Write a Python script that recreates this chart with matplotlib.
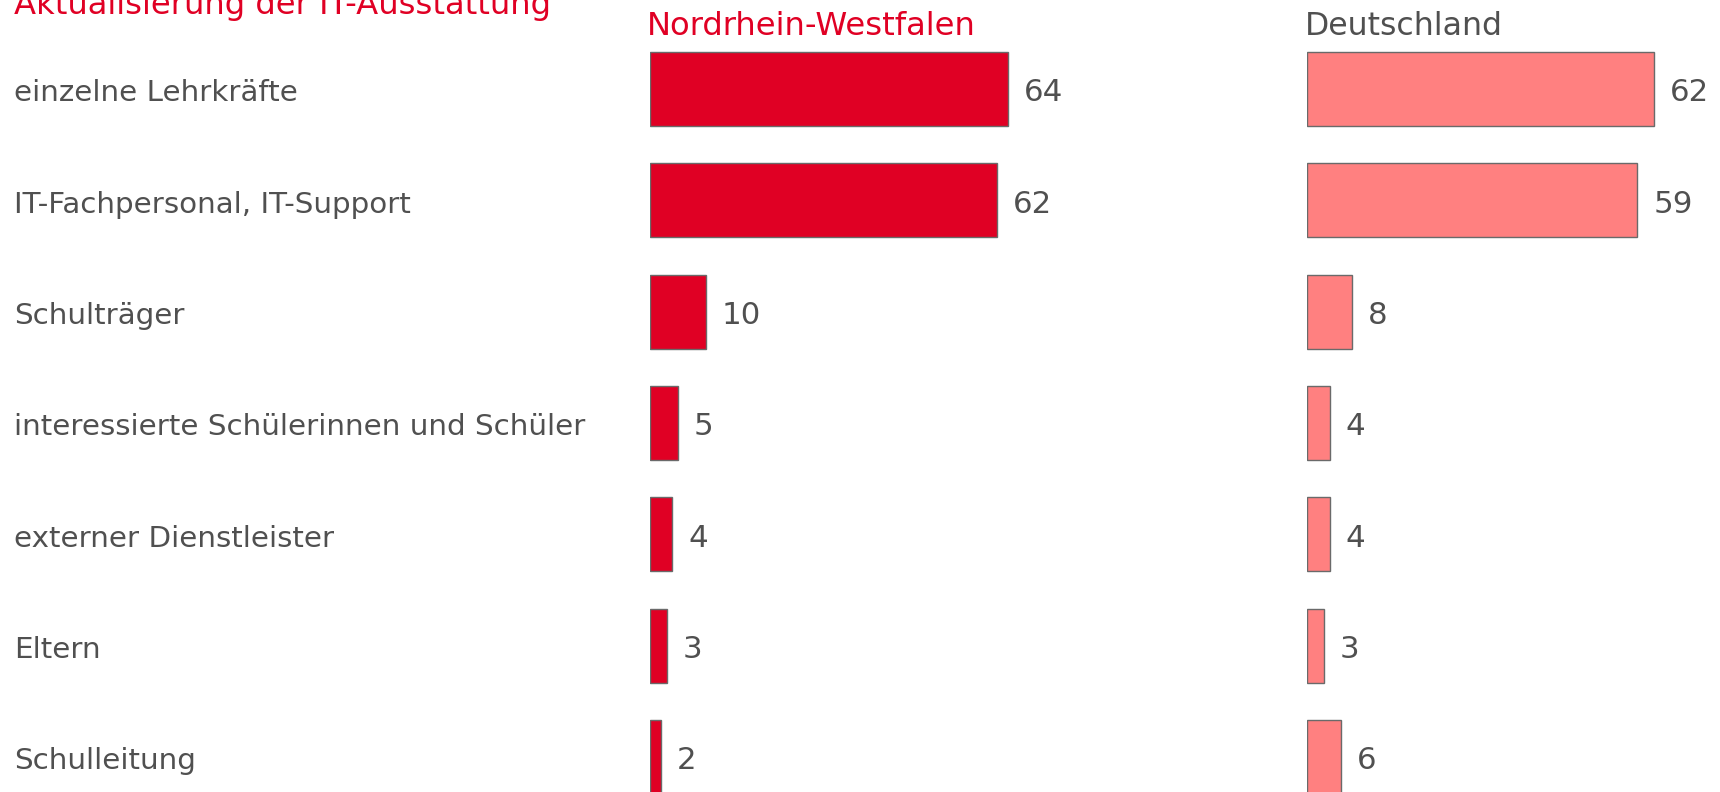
import matplotlib
matplotlib.use("Agg")
import matplotlib.pyplot as plt
import matplotlib.transforms as mtransforms

categories = ["einzelne Lehrkräfte", "IT-Fachpersonal, IT-Support", "Schulträger",
              "interessierte Schülerinnen und Schüler", "externer Dienstleister",
              "Eltern", "Schulleitung"]
nrw_values = [64, 62, 10, 5, 4, 3, 2]
de_values = [62, 59, 8, 4, 4, 3, 6]
title = "Aktualisierung der IT-Ausstattung"
series_names = ["Nordrhein-Westfalen", "Deutschland"]

W, H = 1720, 792
DPI = 100
RED = "#E00024"
PINK = "#FF8080"
GRAY = "#505050"
EDGE = "#6a6a6a"

plt.rcParams['font.family'] = ['DejaVu Sans']

fig = plt.figure(figsize=(W / DPI, H / DPI), dpi=DPI)

px_per_unit = 5.59
row_step = 111.33
first_center = 89.0
ylim = ((H - first_center) / row_step, -first_center / row_step)

ax1_left, ax1_w = 650.0, 600.0
ax2_left, ax2_w = 1307.3, W - 1307.3

ax1 = fig.add_axes([ax1_left / W, 0, ax1_w / W, 1])
ax2 = fig.add_axes([ax2_left / W, 0, ax2_w / W, 1])

VAL_FS = 22.2
LBL_FS = 21.2
CAP = 0.729  # cap height in em (DejaVu Sans)

val_shift = CAP * VAL_FS * DPI / 72 / 2 + 1.0
lbl_shift = CAP * LBL_FS * DPI / 72 / 2 + 1.5

ypos = list(range(len(categories)))
for ax, vals, col, w in [(ax1, nrw_values, RED, ax1_w), (ax2, de_values, PINK, ax2_w)]:
    ax.barh(ypos, vals, height=0.665, color=col, edgecolor=EDGE, linewidth=1.0)
    ax.set_xlim(0, w / px_per_unit)
    ax.set_ylim(*ylim)
    ax.axis("off")
    for y, v in zip(ypos, vals):
        ax.annotate(str(v), xy=(v, y), xytext=(16, -val_shift), textcoords="offset pixels",
                    ha="left", va="baseline", fontsize=VAL_FS, color=GRAY,
                    annotation_clip=False)

# category labels
trans = mtransforms.blended_transform_factory(fig.transFigure, ax1.transData)
trans = trans + mtransforms.ScaledTranslation(0, -lbl_shift / DPI, fig.dpi_scale_trans)
for y, c in zip(ypos, categories):
    fig.text(14 / W, y, c, transform=trans, ha="left", va="baseline",
             fontsize=LBL_FS, color=GRAY)

# title and headings
fig.text(14 / W, 1 - 14 / H, title, ha="left", va="baseline", fontsize=23.2, color=RED)
fig.text(647 / W, 1 - 35 / H, series_names[0], ha="left", va="baseline", fontsize=23.2, color=RED)
fig.text(1305 / W, 1 - 35 / H, series_names[1], ha="left", va="baseline", fontsize=22.7, color=GRAY)

fig.savefig("out.png", dpi=DPI)
